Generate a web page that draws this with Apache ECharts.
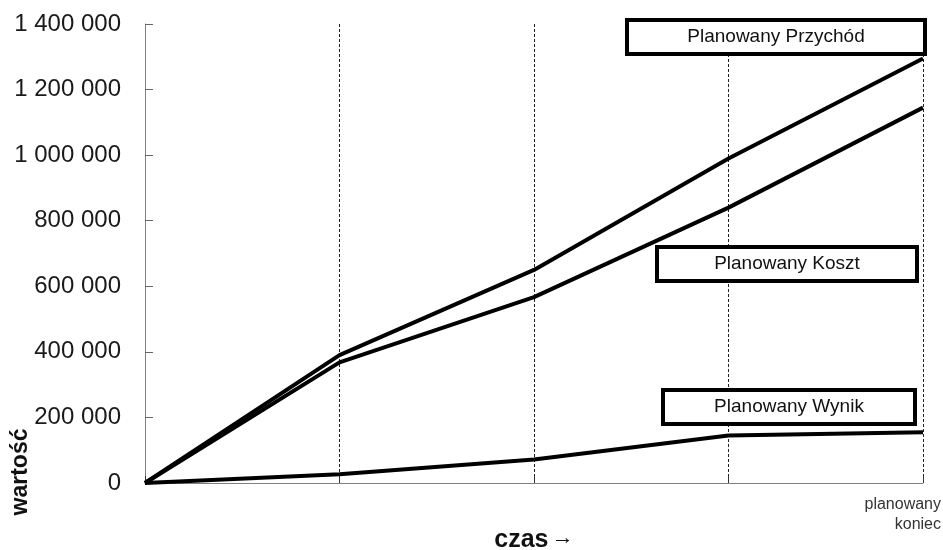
<!DOCTYPE html>
<html>
<head>
<meta charset="utf-8">
<script src="https://cdn.jsdelivr.net/npm/echarts@6/dist/echarts.min.js"></script>
<style>
html,body{margin:0;padding:0;background:#fff;}
#c{width:943px;height:550px;}
</style>
</head>
<body>
<div id="c"></div>
<script>
// Data
var categories = ['', '', '', '', 'planowany\nkoniec'];
var przychod = [0, 390000, 650000, 990000, 1295000];
var koszt = [0, 368000, 567000, 840000, 1145000];
var wynik = [0, 27000, 72000, 145000, 155000];
var yTicks = [0, 200000, 400000, 600000, 800000, 1000000, 1200000, 1400000];
var boxLabels = ['Planowany Przychód', 'Planowany Koszt', 'Planowany Wynik'];

function fmt(v) {
  return String(v).replace(/\B(?=(\d{3})+(?!\d))/g, ' ');
}

var chart = echarts.init(document.getElementById('c'), null, {renderer: 'canvas'});
var font = 'Liberation Sans, Arial, sans-serif';

function box(x, y, w, h, text) {
  return {
    type: 'group',
    children: [
      {type: 'rect', shape: {x: x, y: y, width: w, height: h},
       style: {fill: '#fff', stroke: '#000', lineWidth: 4}, z: 10},
      {type: 'text', x: x + w / 2, y: y + h / 2,
       style: {text: text, fill: '#111', font: '19px ' + font, align: 'center', verticalAlign: 'middle'}, z: 11}
    ]
  };
}

var lineStyle = {color: '#000', width: 4};

chart.setOption({
  animation: false,
  backgroundColor: '#fff',
  grid: {left: 145, right: 20, top: 24, bottom: 67, containLabel: false, outerBoundsMode: 'none'},
  xAxis: {
    type: 'category',
    data: categories,
    boundaryGap: false,
    axisLine: {show: true, lineStyle: {color: '#808080', width: 1}},
    axisTick: {show: true, inside: true, length: 7, lineStyle: {color: '#333'}},
    axisLabel: {
      interval: 0,
      color: '#333',
      fontFamily: font,
      fontSize: 16,
      lineHeight: 20,
      margin: 12,
      align: 'right',
      padding: [0, -18, 0, 0]
    },
    splitLine: {show: true, lineStyle: {color: '#222', width: 1, type: [3, 2]}},
    name: '{b|czas} {a|→}',
    nameLocation: 'middle',
    nameGap: 44,
    nameMoveOverlap: false,
    nameTextStyle: {
      rich: {
        b: {fontFamily: font, fontSize: 25, fontWeight: 'bold', color: '#111', verticalAlign: 'middle'},
        a: {fontFamily: font, fontSize: 22, color: '#111', verticalAlign: 'middle', padding: [0, 0, 4, 0]}
      }
    }
  },
  yAxis: {
    type: 'value',
    min: yTicks[0],
    max: yTicks[yTicks.length - 1],
    interval: yTicks[1] - yTicks[0],
    axisLine: {show: true, lineStyle: {color: '#808080', width: 1}},
    axisTick: {show: true, inside: true, length: 8, lineStyle: {color: '#666'}},
    axisLabel: {
      color: '#1a1a1a',
      fontFamily: font,
      fontSize: 24,
      margin: 24,
      formatter: fmt
    },
    splitLine: {show: false}
  },
  series: [
    {name: 'Planowany Przychód', type: 'line', data: przychod, symbol: 'none', lineStyle: lineStyle, z: 3},
    {name: 'Planowany Koszt', type: 'line', data: koszt, symbol: 'none', lineStyle: lineStyle, z: 3},
    {name: 'Planowany Wynik', type: 'line', data: wynik, symbol: 'none', lineStyle: lineStyle, z: 3}
  ],
  graphic: [
    box(627, 20, 298, 34, boxLabels[0]),
    box(657, 247, 260, 34, boxLabels[1]),
    box(663, 390, 252, 34, boxLabels[2]),
    {type: 'text', x: 21, y: 472, rotation: Math.PI / 2,
     style: {text: 'wartość', fill: '#111', font: 'bold 23px ' + font, align: 'center', verticalAlign: 'middle'}}
  ]
});
</script>
</body>
</html>
